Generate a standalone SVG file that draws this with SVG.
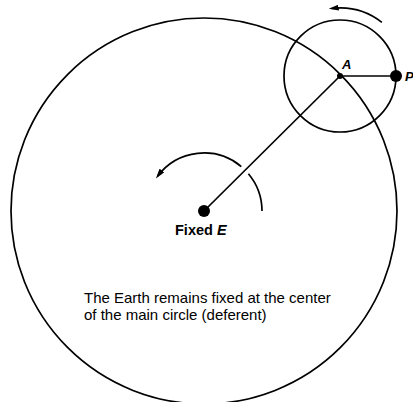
<svg xmlns="http://www.w3.org/2000/svg" width="413" height="402" viewBox="0 0 413 402">
<style>
.ln{fill:none;stroke:#000;stroke-width:1.7}
.dot{fill:#000}
.lbl{font-family:"Liberation Sans",Arial,sans-serif;font-weight:bold;font-style:italic;fill:#000}
.txt{font-family:"Liberation Sans",Arial,sans-serif;font-size:15px;fill:#000}
</style>
<defs>
<marker id="ah" viewBox="0 0 10 6" refX="7" refY="3" markerWidth="10" markerHeight="6" markerUnits="userSpaceOnUse" orient="auto">
<path d="M0,0 L10,3 L0,6 z" fill="#000"/>
</marker>
</defs>
<rect width="413" height="402" fill="#fff"/>
<g id="deferent"><circle class="ln" cx="204" cy="211" r="193"/></g>
<g id="epicycle"><circle class="ln" cx="340" cy="76" r="56"/></g>
<g id="connectors">
<line class="ln" x1="204" y1="211" x2="340" y2="76"/>
<line class="ln" x1="340" y1="76" x2="396" y2="76"/>
<path class="ln" d="M262,211 A58,58 0 0 0 248.4,173.7"/>
<path class="ln" d="M241.3,166.6 A58,58 0 0 0 157.7,176.1" marker-end="url(#ah)"/>
<path class="ln" d="M381.9,22.4 A68,68 0 0 0 331.7,8.5" marker-end="url(#ah)"/>
</g>
<g id="E">
<circle class="dot" cx="204" cy="211" r="6"/>
<text x="175" y="235" font-family="Liberation Sans,Arial,sans-serif" font-weight="bold" font-size="14.5px">Fixed <tspan font-style="italic">E</tspan></text>
</g>
<g id="A">
<circle class="dot" cx="340" cy="76" r="3"/>
<text class="lbl" x="342" y="69" font-size="13px">A</text>
</g>
<g id="P">
<circle class="dot" cx="396" cy="76" r="6"/>
<text class="lbl" x="405" y="81" font-size="13px">P</text>
</g>
<g id="caption">
<text class="txt" x="84" y="303">The Earth remains fixed at the center</text>
<text class="txt" x="84" y="320">of the main circle (deferent)</text>
</g>
</svg>
